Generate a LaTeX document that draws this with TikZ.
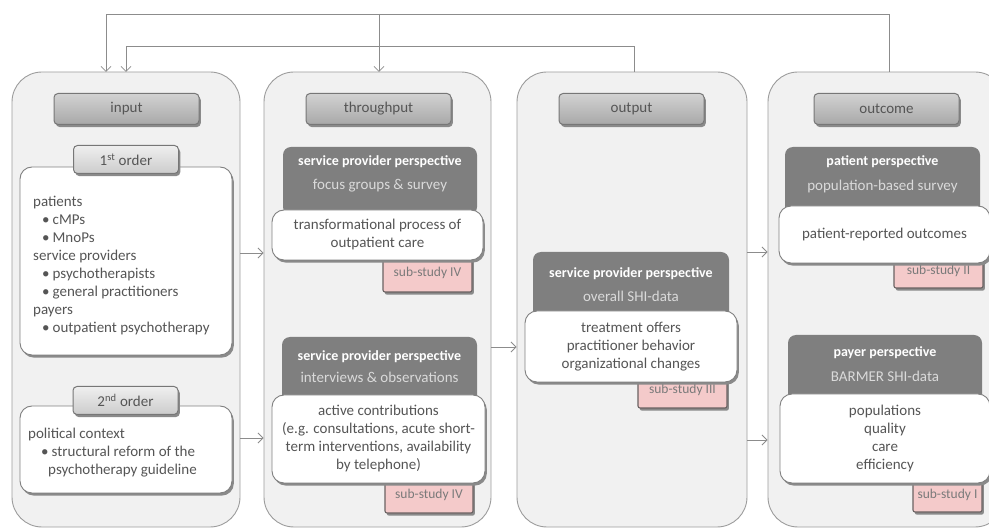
\documentclass[tikz,border=0pt]{standalone}
\usepackage{fontspec}
\setmainfont{Carlito}
\usetikzlibrary{arrows.meta}

\definecolor{colfill}{HTML}{F1F1F1}
\definecolor{colline}{HTML}{9C9C9C}
\definecolor{hdrtop}{HTML}{D2D2D2}
\definecolor{hdrbot}{HTML}{A8A8A8}
\definecolor{hdrline}{HTML}{777777}
\definecolor{tabtop}{HTML}{EFEFEF}
\definecolor{tabbot}{HTML}{CCCCCC}
\definecolor{darkfill}{HTML}{7F7F7F}
\definecolor{darktxt}{HTML}{DADADA}
\definecolor{wline}{HTML}{808080}
\definecolor{pinkfill}{HTML}{F4CACA}
\definecolor{pinkline}{HTML}{6A6262}
\definecolor{pinktxt}{HTML}{7A7A7A}
\definecolor{txt}{HTML}{555555}
\definecolor{linecol}{HTML}{8C8C8C}
\definecolor{shadowcol}{HTML}{8A8A8A}

\begin{document}
\begin{tikzpicture}[x=1pt, y=-1pt,
  font=\fontsize{15}{18}\selectfont, text=txt,
  softshadow/.style={preaction={draw=none, fill=shadowcol,
      transform canvas={shift={(1.8pt,-2.6pt)}}}},
  column/.style={draw=colline, fill=colfill, line width=0.9pt, rounded corners=30pt, inner sep=0pt},
  header/.style={softshadow, draw=hdrline, top color=hdrtop, bottom color=hdrbot, rounded corners=4pt,
    line width=1pt, minimum width=145pt, minimum height=31pt, inner sep=0pt},
  ordertab/.style={softshadow, draw=hdrline, top color=tabtop, bottom color=tabbot, rounded corners=4pt,
    line width=1pt, minimum width=105pt, minimum height=28pt, inner sep=0pt},
  darkbox/.style={fill=darkfill, rounded corners=8pt, inner sep=0pt},
  darkhead/.style={text=white, inner sep=0pt, font=\bfseries\fontsize{14}{16}\selectfont},
  darksub/.style={text=darktxt, inner sep=0pt},
  whitebox/.style={softshadow, draw=wline, fill=white, line width=0.9pt, rounded corners=12pt, inner sep=0pt,
    align=center},
  pinktab/.style={softshadow, draw=pinkline, fill=pinkfill, line width=1.1pt, rounded corners=2pt, inner sep=0pt,
    text=pinktxt, font=\fontsize{13.5}{16}\selectfont},
  conn/.style={draw=linecol, line width=0.8pt},
  flow/.style={conn, -{Straight Barb[length=5pt,width=10pt]}}
]
\useasboundingbox (0,0) rectangle (989,529);
\clip (0,0) rectangle (989,529);

% ---------- the four columns ----------
\node[column, minimum width=228pt, minimum height=455pt] (colIn)  at (126,299.5) {};
\node[column, minimum width=227pt, minimum height=455pt] (colThr) at (377.5,299.5) {};
\node[column, minimum width=230pt, minimum height=455pt] (colOut) at (632,299.5) {};
\node[column, minimum width=237pt, minimum height=455pt] (colOc)  at (886.5,299.5) {};

\node[header] (hIn)  at (126.5,109) {input};
\node[header] (hThr) at (378.5,109) {throughput};
\node[header] (hOut) at (631.5,109) {output};
\node[header] (hOc)  at (886.5,109) {outcome};

% ---------- input ----------
\node[whitebox, minimum width=212pt, minimum height=188pt] (wIn1) at (126,261) {};
\node[anchor=north west, align=left, inner sep=0pt] (inTxt1) at (33,196)
  {patients\\
   \hspace*{9pt}•\hspace{3pt}cMPs\\
   \hspace*{9pt}•\hspace{3pt}MnoPs\\
   service providers\\
   \hspace*{9pt}•\hspace{3pt}psychotherapists\\
   \hspace*{9pt}•\hspace{3pt}general practitioners\\
   payers\\
   \hspace*{9pt}•\hspace{3pt}outpatient psychotherapy};
\node[ordertab] (ord1) at (126,159.5) {1\textsuperscript{st} order};

\node[whitebox, minimum width=212pt, minimum height=87pt] (wIn2) at (126,449.5) {};
\node[anchor=north west, align=left, inner sep=0pt] (inTxt2) at (28,428)
  {political context\\
   \hspace*{13pt}•\hspace{3pt}structural reform of the\\
   \hspace*{20pt}psychotherapy guideline};
\node[ordertab] (ord2) at (125.5,400.5) {2\textsuperscript{nd} order};

% ---------- throughput ----------
\node[darkbox, minimum width=194pt, minimum height=68pt] (dkT1) at (380,181) {};
\node[darkhead] (dkT1a) at (380,162) {service provider perspective};
\node[darksub]  (dkT1b) at (380,186) {focus groups \& survey};
\node[pinktab, minimum width=89pt, minimum height=38pt] (pkT1) at (427.5,273) {\raisebox{-3pt}{sub-study IV}};
\node[whitebox, minimum width=211pt, minimum height=50pt] (wT1) at (377.5,235)
  {transformational process of\\outpatient care};

\node[darkbox, minimum width=195pt, minimum height=68pt] (dkT2) at (379.5,371) {};
\node[darkhead] (dkT2a) at (379.5,357) {service provider perspective};
\node[darksub]  (dkT2b) at (379.5,377) {interviews \& observations};
\node[pinktab, minimum width=88pt, minimum height=36pt] (pkT2) at (429,495) {\raisebox{-3pt}{sub-study IV}};
\node[whitebox, minimum width=213pt, minimum height=88pt] (wT2) at (378.5,439)
  {active contributions\\(e.g. consultations, acute short-\\term interventions, availability\\by telephone)};

% ---------- output ----------
\node[darkbox, minimum width=196pt, minimum height=68pt] (dkO) at (631,286) {};
\node[darkhead] (dkOa) at (631,274) {service provider perspective};
\node[darksub]  (dkOb) at (631,296) {overall SHI-data};
\node[pinktab, minimum width=89pt, minimum height=36pt] (pkO) at (682.5,390) {\raisebox{-3pt}{sub-study III}};
\node[whitebox, minimum width=212pt, minimum height=71pt] (wO) at (631,346.5)
  {treatment offers\\practitioner behavior\\organizational changes};

% ---------- outcome ----------
\node[darkbox, minimum width=195pt, minimum height=68pt] (dkC1) at (882.5,181) {};
\node[darkhead] (dkC1a) at (882.5,162) {patient perspective};
\node[darksub]  (dkC1b) at (882.5,187) {population-based survey};
\node[pinktab, minimum width=89pt, minimum height=34pt] (pkC1) at (938.5,271) {\raisebox{-3pt}{sub-study II}};
\node[whitebox, minimum width=211pt, minimum height=57pt] (wC1) at (884.5,234.5)
  {patient-reported outcomes};

\node[darkbox, minimum width=194pt, minimum height=68pt] (dkC2) at (885,369) {};
\node[darkhead] (dkC2a) at (885,353) {payer perspective};
\node[darksub]  (dkC2b) at (885,376) {BARMER SHI-data};
\node[pinktab, minimum width=69pt, minimum height=35pt] (pkC2) at (947.5,494.5) {\raisebox{-3pt}{sub-study I}};
\node[whitebox, minimum width=210pt, minimum height=89pt] (wC2) at (885,438.5)
  {populations\\quality\\care\\efficiency};

% ---------- connectors between columns ----------
\coordinate (yA) at (0,253);
\coordinate (yB) at (0,438);
\coordinate (yC) at (0,347);
\coordinate (yD) at (0,252);
\coordinate (yE) at (0,440);
\draw[flow] (colIn.east |- yA)  -- (colThr.west |- yA);
\draw[flow] (colIn.east |- yB)  -- (colThr.west |- yB);
\draw[flow] (colThr.east |- yC) -- (colOut.west |- yC);
\draw[flow] (colOut.east |- yD) -- (colOc.west |- yD);
\draw[flow] (colOut.east |- yE) -- (colOc.west |- yE);

% ---------- feedback loops across the top ----------
\coordinate (fbOcTop)  at (889,72);
\coordinate (fbOutTop) at (634,72);
\coordinate (fbInA)    at (106,72);
\coordinate (fbInB)    at (126,72);
\coordinate (fbThr)    at (379,72);
\coordinate (fbHigh)   at (0,14);
\coordinate (fbLow)    at (0,46);
\draw[flow] (fbOcTop) -- (fbOcTop |- fbHigh) -- (fbInA |- fbHigh) -- (fbInA);
\draw[flow] (fbThr |- fbHigh) -- (fbThr);
\draw[flow] (fbOutTop) -- (fbOutTop |- fbLow) -- (fbInB |- fbLow) -- (fbInB);
\end{tikzpicture}
\end{document}
